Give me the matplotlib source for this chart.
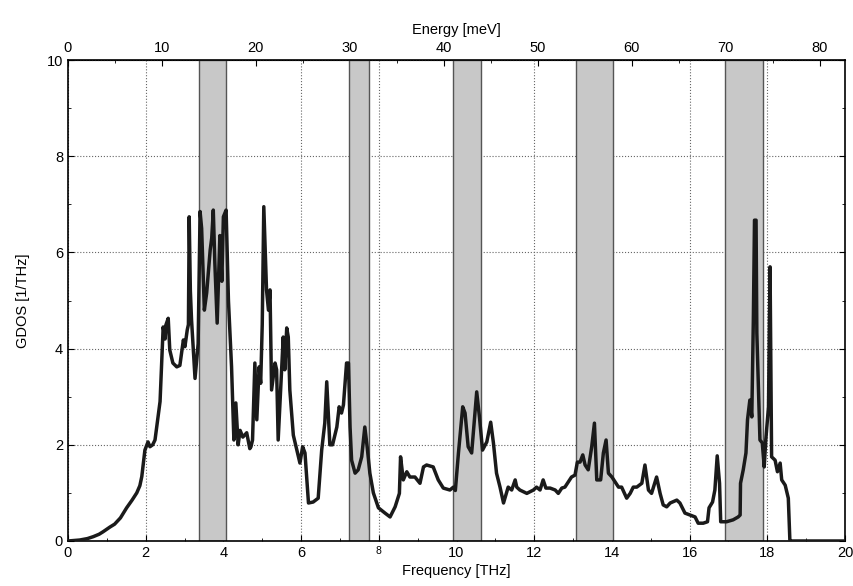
import numpy as np
import matplotlib
matplotlib.use('Agg')
import matplotlib.pyplot as plt
import matplotlib.ticker as ticker

SIZE = 10.5
plt.rcParams['font.family'] = ['Liberation Sans Narrow', 'Liberation Sans', 'DejaVu Sans']
plt.rc('font', size=SIZE)
plt.rc('xtick', labelsize=SIZE)
plt.rc('ytick', labelsize=SIZE)

# frequency [THz] and GDOS [1/THz]
freq = [0.0, 0.3, 0.5, 0.65, 0.8, 0.9, 1.08, 1.2, 1.35, 1.51, 1.65, 1.77, 1.85, 1.9, 1.98, 2.06, 2.11, 2.18, 2.24,
        2.37, 2.45, 2.5, 2.52, 2.58, 2.62, 2.7, 2.8, 2.88, 2.97, 3.01, 3.07, 3.1, 3.12, 3.15, 3.18,
        3.27, 3.35, 3.40, 3.44, 3.51, 3.57, 3.66, 3.70, 3.74, 3.78, 3.84, 3.91, 3.96, 4.0, 4.07,
        4.13, 4.21, 4.25, 4.27, 4.32, 4.38, 4.43, 4.5, 4.6, 4.68, 4.71, 4.75, 4.81, 4.86, 4.92,
        4.96, 5.0, 5.04, 5.11, 5.16, 5.2, 5.24, 5.33, 5.37, 5.41, 5.5, 5.54, 5.58, 5.63, 5.67,
        5.71, 5.8, 5.89, 5.97, 6.04, 6.1, 6.19, 6.31, 6.44, 6.53, 6.61, 6.66, 6.74, 6.81, 6.92,
        6.98, 7.04, 7.09, 7.17, 7.22, 7.26, 7.3, 7.39, 7.47, 7.56, 7.64, 7.7, 7.77, 7.86, 7.99,
        8.16, 8.29, 8.42, 8.53, 8.56, 8.63, 8.72, 8.8, 8.93, 9.06, 9.15, 9.23, 9.4, 9.53, 9.66,
        9.83, 9.92, 9.97, 10.05, 10.16, 10.22, 10.3, 10.39, 10.52, 10.59, 10.67, 10.78, 10.88,
        10.95, 11.03, 11.12, 11.21, 11.33, 11.42, 11.51, 11.55, 11.63, 11.81, 11.98, 12.06,
        12.15, 12.23, 12.3, 12.41, 12.54, 12.62, 12.71, 12.79, 12.96, 13.05, 13.11, 13.18,
        13.25, 13.31, 13.39, 13.48, 13.55, 13.61, 13.71, 13.78, 13.85, 13.91, 14.0, 14.08,
        14.17, 14.25, 14.38, 14.47, 14.55, 14.64, 14.77, 14.85, 14.94, 15.02, 15.15, 15.24,
        15.32, 15.41, 15.5, 15.67, 15.75, 15.88, 16.01, 16.14, 16.22, 16.35, 16.46, 16.5,
        16.59, 16.65, 16.71, 16.77, 16.8, 16.95, 17.12, 17.25, 17.3, 17.31, 17.38, 17.45,
        17.49, 17.55, 17.6, 17.64, 17.67, 17.71, 17.73, 17.81, 17.87, 17.92, 17.96, 18.03,
        18.07, 18.11, 18.2, 18.26, 18.33, 18.37, 18.46, 18.54, 18.58, 18.6, 20.0]
gdos = [0.0, 0.02, 0.05, 0.09, 0.14, 0.19, 0.29, 0.35, 0.48, 0.69, 0.85, 1.0, 1.15, 1.34, 1.89, 2.06, 1.96, 2.0, 2.1,
        2.9, 4.45, 4.2, 4.49, 4.63, 3.97, 3.7, 3.62, 3.65, 4.18, 4.04, 4.39, 4.5, 6.74, 5.2, 4.6,
        3.38, 4.1, 6.85, 6.5, 4.8, 5.16, 6.05, 6.3, 6.88, 5.78, 4.53, 6.35, 5.4, 6.74, 6.88,
        5.0, 3.62, 2.6, 2.1, 2.87, 2.0, 2.3, 2.16, 2.25, 1.92, 1.96, 2.1, 3.7, 2.52, 3.62,
        3.28, 4.5, 6.95, 5.22, 4.8, 5.22, 3.14, 3.7, 3.56, 2.1, 3.56, 4.24, 3.56, 4.43, 4.24,
        3.14, 2.2, 1.89, 1.62, 1.96, 1.83, 0.79, 0.81, 0.89, 1.89, 2.45, 3.31, 2.0, 2.0, 2.37,
        2.79, 2.66, 2.83, 3.7, 3.7, 2.37, 1.68, 1.41, 1.48, 1.75, 2.37, 1.96, 1.41, 1.0, 0.69,
        0.58, 0.5, 0.71, 0.99, 1.75, 1.27, 1.44, 1.33, 1.33, 1.2, 1.54, 1.58, 1.54, 1.27, 1.1,
        1.06, 1.12, 1.05, 1.83, 2.79, 2.66, 1.96, 1.83, 3.1, 2.58, 1.89, 2.06, 2.47,
        2.04, 1.41, 1.12, 0.79, 1.12, 1.06, 1.27, 1.12, 1.06, 0.99, 1.06, 1.12,
        1.06, 1.27, 1.1, 1.1, 1.06, 0.99, 1.1, 1.12, 1.33, 1.37, 1.64, 1.64,
        1.79, 1.58, 1.48, 1.96, 2.45, 1.27, 1.27, 1.83, 2.1, 1.41, 1.33, 1.23,
        1.12, 1.12, 0.89, 0.99, 1.12, 1.12, 1.2, 1.58, 1.06, 0.99, 1.33, 0.99,
        0.75, 0.71, 0.79, 0.85, 0.79, 0.58, 0.54, 0.5, 0.37, 0.37, 0.4, 0.69,
        0.81, 1.06, 1.77, 1.2, 0.4, 0.4, 0.44, 0.5, 0.54, 1.2, 1.48, 1.83,
        2.52, 2.93, 2.58, 4.59, 6.67, 6.67, 4.32, 2.1, 2.04, 1.54, 2.1, 2.79,
        5.7, 1.75, 1.68, 1.44, 1.62, 1.27, 1.16, 0.89, 0.02, 0.0, 0.0]

# shaded frequency windows [THz]
band_lo = [3.36, 7.23, 9.90, 13.07, 16.92]
band_hi = [4.08, 7.75, 10.64, 14.03, 17.90]

mev_ticks = [0, 10, 20, 30, 40, 50, 60, 70, 80]
THZ_TO_MEV = 4.1357

fig = plt.figure(figsize=(8.54, 5.86), dpi=100)
ax = fig.add_axes([0.0796, 0.0768, 0.9099, 0.8208])

for lo, hi in zip(band_lo, band_hi):
    ax.axvspan(lo, hi, facecolor='#c8c8c8', edgecolor='#555555', linewidth=1.0, zorder=1)

ax.plot(freq, gdos, '-', color='#1a1a1a', linewidth=2.5, zorder=3)

ax.set_xlim(0, 20)
ax.set_ylim(0, 10)
ax.xaxis.set_major_locator(ticker.MultipleLocator(2))
ax.xaxis.set_minor_locator(ticker.MultipleLocator(1))
ax.yaxis.set_major_locator(ticker.MultipleLocator(2))
ax.yaxis.set_minor_locator(ticker.MultipleLocator(1))
ax.tick_params(which='both', direction='in', right=True, top=False)
ax.tick_params(which='major', length=4)
ax.tick_params(which='minor', length=2.5)
ax.set_axisbelow(True)
ax.grid(True, which='major', linestyle=':', color='#666666', linewidth=0.8)

# the "8" label is printed smaller in the reference
fig.canvas.draw()
for lab in ax.get_xticklabels():
    if lab.get_text() == '8':
        lab.set_fontsize(7.5)

ax.set_xlabel('Frequency [THz]', labelpad=3)
ax.set_ylabel('GDOS [1/THz]', labelpad=12)

sec = ax.secondary_xaxis('top', functions=(lambda f: f * THZ_TO_MEV, lambda e: e / THZ_TO_MEV))
sec.xaxis.set_major_locator(ticker.FixedLocator(mev_ticks))
sec.xaxis.set_minor_locator(ticker.FixedLocator([m + 5 for m in mev_ticks]))
sec.tick_params(which='both', direction='in')
sec.tick_params(which='major', length=4)
sec.tick_params(which='minor', length=2.5)
sec.set_xlabel('Energy [meV]', labelpad=5)

for s in ax.spines.values():
    s.set_linewidth(1.2)

fig.savefig('out.png', dpi=100)
